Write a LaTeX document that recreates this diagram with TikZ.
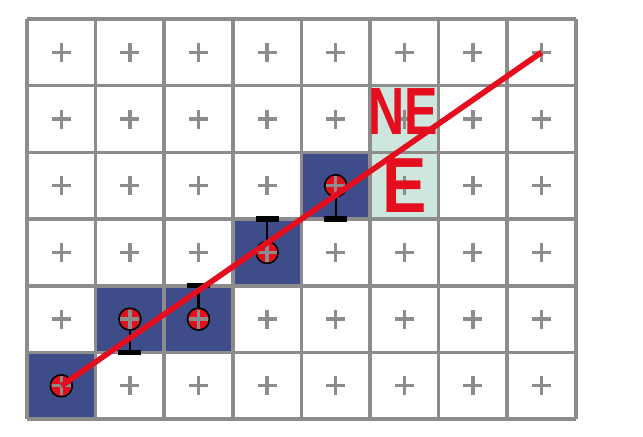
\documentclass[tikz,border=0pt]{standalone}
\usepackage{fontspec}
\setmainfont{Liberation Sans}
\definecolor{gridgray}{RGB}{140,140,140}
\definecolor{pixblue}{RGB}{62,76,138}
\definecolor{candgreen}{RGB}{206,231,222}
\definecolor{linered}{RGB}{228,14,30}
\tikzset{
  gridline/.style={gridgray, line width=2pt},
  plus/.style={gridgray, line width=1.9pt},
  pixel/.style={circle, draw=black, fill=linered, line width=0.9pt, minimum size=0.44cm, inner sep=0pt},
  stem/.style={black, line width=1.2pt},
  midbar/.style={black, line width=3pt},
  scanline/.style={linered, line width=3.2pt},
  candlabel/.style={text=linered, inner sep=0pt}
}
\begin{document}
\begin{tikzpicture}[x=1.372cm, y=1.334cm, >=stealth]
        \useasboundingbox (-0.394,-0.255) rectangle (8.98,6.285);

        % chosen pixels
        \foreach \i/\j in {0/0, 1/1, 2/1, 3/2, 4/3} {
            \fill[pixblue] (\i,\j) rectangle ++(1,1);
        }
        % candidates E and NE
        \fill[candgreen] (5,3) rectangle (6,5);

        % pixel grid
        \foreach \x in {0,...,8} {
            \draw[gridline] (\x,0) -- (\x,6);
        }
        \foreach \y in {0,...,6} {
            \draw[gridline] (0,\y) -- (8,\y);
        }

        % midpoints: stem from pixel to the bar
        \foreach \i/\j/\m in {1/1/1, 2/1/2, 3/2/3, 4/3/3} {
            \draw[stem] (\i+0.5,\j+0.5) -- (\i+0.5,\m);
            \draw[midbar] (\i+0.332,\m) -- (\i+0.668,\m);
        }

        % pixels set by the line
        \foreach \i/\j in {0/0, 1/1, 2/1, 3/2, 4/3} {
            \node[pixel] (p\i) at (\i+0.5,\j+0.5) {};
        }

        % pixel centres
        \foreach \x in {0,...,7} {
            \foreach \y in {0,...,5} {
                \draw[plus] (\x+0.5,\y+0.5) +(-0.138,0) -- +(0.138,0)
                    +(0,-0.142) -- +(0,0.142);
            }
        }

        % labels of the two candidates
        \node[candlabel, font=\fontsize{38}{38}\selectfont\bfseries, xscale=0.75] (ne) at (5.48,4.618) {NE};
        \node[candlabel, font=\fontsize{44.5}{44.5}\selectfont\bfseries, xscale=0.85] (e) at (5.50,3.508) {E};

        % the line
        \coordinate (lineend) at (7.5,5.5);
        \draw[scanline] (p0.center) -- (lineend);
\end{tikzpicture}
\end{document}
